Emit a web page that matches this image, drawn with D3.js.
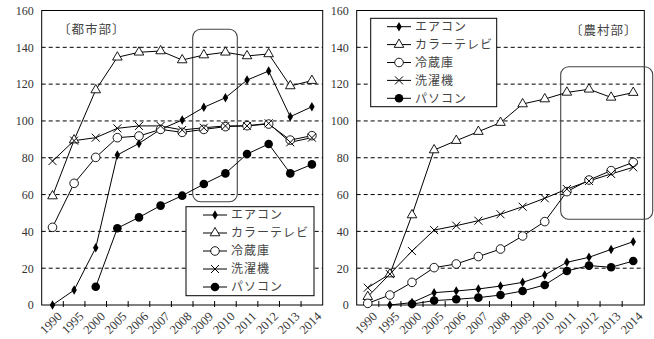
<!DOCTYPE html>
<html><head><meta charset="utf-8">
<script src="https://cdn.jsdelivr.net/npm/d3@7"></script>
<style>
body{margin:0;background:#fff;}
svg text{font-family:"Liberation Serif","Noto Sans CJK JP",serif;}
</style></head>
<body><svg id="c" width="654" height="339"></svg>
<script>
const years = ["1990","1995","2000","2005","2006","2007","2008","2009","2010","2011","2012","2013","2014"];
const seriesNames = ["エアコン","カラーテレビ","冷蔵庫","洗濯機","パソコン"];
const yTicks = [0,20,40,60,80,100,120,140,160];

// 都市部
const airconUrban = [0, 8.1, 31.1, 81.5, 87.8, 95.4, 100.5, 107.4, 112.6, 122.2, 127.1, 102.3, 107.7];
const tvUrban     = [59.2, 89.6, 116.8, 134.6, 137.3, 138, 133.1, 135.8, 137.3, 135.3, 136.4, 119, 121.9];
const fridgeUrban = [42.2, 66.1, 80.2, 90.9, 91.8, 95.4, 93.8, 95.4, 96.9, 97.4, 98.3, 89.6, 92];
const washerUrban = [78.2, 89.3, 90.9, 96, 97.3, 97.3, 95.1, 96.3, 97.3, 97.3, 98.7, 88.4, 90.9];
const pcUrban     = [null, null, 9.9, 41.7, 47.6, 54, 59.4, 65.7, 71.5, 82, 87.5, 71.5, 76.4];

// 農村部
const airconRural = [null, 0, 1.3, 6.7, 7.6, 8.7, 10.3, 12.3, 16.3, 23.2, 25.9, 30.2, 34.4];
const tvRural     = [4.5, 16.8, 48.9, 84.2, 89.3, 94.2, 99.1, 109.2, 111.9, 115.5, 117.2, 112.8, 115.4];
const fridgeRural = [0.9, 5.4, 12.3, 20.3, 22.3, 26.3, 30.4, 37.5, 45.3, 61.6, 67.9, 73, 77.5];
const washerRural = [9.4, 16.8, 29.3, 40.7, 43.1, 45.8, 49.3, 53.4, 58, 63, 67.4, 71.2, 74.8];
const pcRural     = [null, null, 0.5, 2.4, 3.1, 4, 5.4, 7.6, 10.9, 18.5, 21.4, 20.5, 23.9];

const markerTypes = ["diamond","triangle","circle","cross","dot"];

const svg = d3.select("#c");

function drawMarker(g, type, x, y){
  if(type==="diamond"){
    g.append("path").attr("d", d3.symbol().type(d3.symbolDiamond).size(26)())
      .attr("transform",`translate(${x},${y})`).attr("fill","#000");
  } else if(type==="triangle"){
    g.append("path").attr("d", d3.symbol().type(d3.symbolTriangle).size(40)())
      .attr("transform",`translate(${x},${y})`).attr("fill","#fff").attr("stroke","#000").attr("stroke-width",0.9);
  } else if(type==="circle"){
    g.append("circle").attr("cx",x).attr("cy",y).attr("r",4.3).attr("fill","#fff").attr("stroke","#000").attr("stroke-width",0.9);
  } else if(type==="cross"){
    const s=4;
    g.append("path").attr("d",`M${x-s},${y-s}L${x+s},${y+s}M${x-s},${y+s}L${x+s},${y-s}`)
      .attr("stroke","#000").attr("stroke-width",1);
  } else {
    g.append("circle").attr("cx",x).attr("cy",y).attr("r",4.3).attr("fill","#000");
  }
}

function panel(cfg){
  const g = svg.append("g");
  const x = d3.scaleBand().domain(years).range([cfg.x0, cfg.x1]);
  const y = d3.scaleLinear().domain([0,160]).range([305, 10.5]);
  // gridlines
  g.selectAll(".grid").data(yTicks.filter(t=>t>0 && t<160)).join("line")
    .attr("x1",cfg.x0).attr("x2",cfg.x1).attr("y1",d=>y(d)).attr("y2",d=>y(d))
    .attr("stroke","#000").attr("stroke-width",1).attr("stroke-dasharray","4,3");
  // frame
  g.append("rect").attr("x",cfg.x0).attr("y",y(160)).attr("width",cfg.x1-cfg.x0).attr("height",y(0)-y(160))
    .attr("fill","none").attr("stroke","#000").attr("stroke-width",1);
  // y axis labels
  const ya = g.append("g").attr("transform",`translate(${cfg.x0},0)`)
    .call(d3.axisLeft(y).tickValues(yTicks).tickSize(0).tickPadding(8));
  ya.select(".domain").remove();
  ya.selectAll("text").attr("font-size","12px").attr("fill","#333")
    .style("font-family","'Liberation Serif',serif");
  // x ticks at band boundaries
  const bounds = years.slice(1).map(d=>x(d));
  g.selectAll(".xt").data(bounds).join("line")
    .attr("x1",d=>d).attr("x2",d=>d).attr("y1",y(0)-4).attr("y2",y(0)+2)
    .attr("stroke","#000").attr("stroke-width",1);
  // x labels
  g.selectAll(".xl").data(years).join("text")
    .attr("transform",d=>`translate(${x(d)+x.bandwidth()/2+4},${y(0)+6}) rotate(-45)`)
    .attr("text-anchor","end").attr("dy","0.7em").attr("font-size","12.5px").attr("fill","#333")
    .text(d=>d);
  // highlight box
  g.append("rect").attr("x",cfg.hl[0]).attr("y",cfg.hl[1]).attr("width",cfg.hl[2]).attr("height",cfg.hl[3])
    .attr("rx",8).attr("fill","none").attr("stroke","#444").attr("stroke-width",1.1);
  // series
  cfg.data.forEach((arr,i)=>{
    const pts = years.map((yr,j)=>({yr, v:arr[j]})).filter(p=>p.v!==null);
    const line = d3.line().x(p=>x(p.yr)+x.bandwidth()/2).y(p=>y(p.v));
    g.append("path").attr("d",line(pts)).attr("fill","none").attr("stroke","#000").attr("stroke-width",1);
  });
  cfg.data.forEach((arr,i)=>{
    years.forEach((yr,j)=>{
      if(arr[j]===null) return;
      drawMarker(g, markerTypes[i], x(yr)+x.bandwidth()/2, y(arr[j]));
    });
  });
  // legend
  const L = cfg.legend;
  g.append("rect").attr("x",L.x).attr("y",L.y).attr("width",L.w).attr("height",L.h)
    .attr("fill","#fff").attr("stroke","#000").attr("stroke-width",1);
  seriesNames.forEach((name,i)=>{
    const yy = L.y0 + i*L.step;
    g.append("line").attr("x1",L.lx).attr("x2",L.lx+24).attr("y1",yy).attr("y2",yy).attr("stroke","#000").attr("stroke-width",1);
    drawMarker(g, markerTypes[i], L.lx+12, yy);
    g.append("text").attr("x",L.lx+28).attr("y",yy).attr("dy","0.36em").attr("font-size","12px").attr("fill","#444")
      .attr("letter-spacing","1px").text(name);
  });
  // panel label
  g.append("text").attr("x",cfg.label[0]).attr("y",cfg.label[1]).attr("dy","0.36em")
    .attr("font-size","12.5px").attr("fill","#444").attr("letter-spacing","1px").text(cfg.title);
}

panel({x0:41.7, x1:322.7, title:"〔都市部〕", label:[58,29],
  data:[airconUrban,tvUrban,fridgeUrban,washerUrban,pcUrban],
  hl:[192.7,29.3,44.6,172.4],
  legend:{x:186,y:206.7,w:128,h:89,lx:203,y0:215,step:18}});
panel({x0:356.7, x1:644.3, title:"〔農村部〕", label:[570,30],
  data:[airconRural,tvRural,fridgeRural,washerRural,pcRural],
  hl:[560.7,66.7,92,152.6],
  legend:{x:370.7,y:18.3,w:126,h:88.4,lx:387,y0:26.7,step:17.9}});
</script></body></html>
